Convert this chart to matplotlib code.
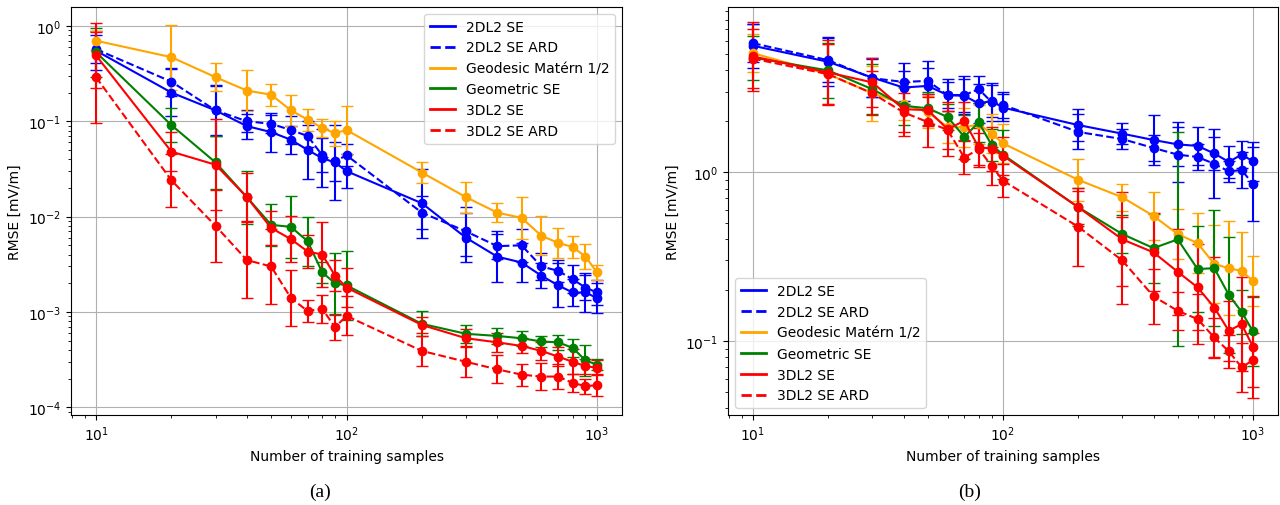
import matplotlib
matplotlib.use("Agg")
import matplotlib.pyplot as plt
from matplotlib.lines import Line2D

# number of training samples (shared by both panels)
n_samples = [10, 20, 30, 40, 50, 60, 70, 80, 90, 100, 200, 300, 400, 500, 600, 700, 800, 900, 1000]

labels = ["2DL2 SE", "2DL2 SE ARD", "Geodesic Matérn 1/2", "Geometric SE", "3DL2 SE", "3DL2 SE ARD"]
colors = ["blue", "blue", "orange", "green", "red", "red"]
styles = ["-", "--", "-", "-", "-", "--"]

# ---- panel (a): RMSE and multiplicative spread of the error bars ----
a_2dl2 = [0.55, 0.20, 0.13, 0.089, 0.077, 0.064, 0.050, 0.041, 0.037, 0.030,
          0.0138, 0.0060, 0.0038, 0.0033, 0.0024, 0.0019, 0.0016, 0.0016, 0.0014]
a_2dl2_ard = [0.57, 0.26, 0.13, 0.10, 0.094, 0.081, 0.070, 0.044, 0.038, 0.044,
              0.011, 0.007, 0.0049, 0.0050, 0.0030, 0.0027, 0.0022, 0.0018, 0.0016]
a_geod = [0.70, 0.47, 0.29, 0.21, 0.19, 0.13, 0.104, 0.085, 0.075, 0.081,
          0.029, 0.016, 0.011, 0.0097, 0.0063, 0.0053, 0.0048, 0.0038, 0.0026]
a_geom = [0.53, 0.091, 0.037, 0.016, 0.0082, 0.0078, 0.0055, 0.0026, 0.0020, 0.0019,
          0.00075, 0.00059, 0.00056, 0.00053, 0.00049, 0.00048, 0.00042, 0.00031, 0.00028]
a_3dl2 = [0.49, 0.048, 0.035, 0.016, 0.0076, 0.0058, 0.0043, 0.0040, 0.0024, 0.0018,
          0.00073, 0.00053, 0.00048, 0.00044, 0.00039, 0.00034, 0.00030, 0.00027, 0.00026]
a_3dl2_ard = [0.29, 0.024, 0.0080, 0.0035, 0.0030, 0.0014, 0.00102, 0.00108, 0.00069, 0.00091,
              0.00039, 0.00030, 0.00025, 0.00022, 0.00021, 0.00021, 0.00018, 0.000167, 0.00017]

a_2dl2_f = [1.6, 1.75, 1.85, 1.35, 1.6, 1.4, 2.0, 2.0, 2.5, 1.5, 2.3, 1.8, 1.85, 1.6, 1.35, 1.7, 1.4, 1.6, 1.45]
a_2dl2_ard_f = [1.4, 1.4, 1.8, 1.3, 1.25, 1.4, 1.3, 1.5, 1.6, 1.3, 1.5, 1.8, 1.35, 1.5, 1.4, 1.3, 1.4, 1.35, 1.35]
a_geod_f = [1.25, 2.2, 1.4, 1.65, 1.3, 1.45, 1.3, 1.25, 1.35, 1.8, 1.3, 1.45, 1.25, 1.65, 1.6, 1.45, 1.3, 1.35, 1.2]
a_geom_f = [1.8, 1.5, 1.9, 1.9, 1.65, 2.1, 1.8, 1.3, 2.1, 2.3, 1.35, 1.25, 1.2, 1.2, 1.15, 1.2, 1.25, 1.45, 1.15]
a_3dl2_f = [2.2, 1.6, 3.0, 1.8, 1.5, 1.75, 1.5, 2.2, 1.45, 1.6, 1.2, 1.25, 1.25, 1.2, 1.25, 1.25, 1.35, 1.2, 1.2]
a_3dl2_ard_f = [3.0, 1.9, 2.4, 2.5, 2.5, 1.95, 1.3, 1.4, 1.35, 1.6, 1.45, 1.45, 1.4, 1.3, 1.4, 1.35, 1.25, 1.2, 1.3]

# ---- panel (b) ----
b_2dl2 = [5.6, 4.5, 3.63, 3.17, 3.24, 2.86, 2.83, 2.55, 2.64, 2.41,
          1.90, 1.69, 1.55, 1.46, 1.43, 1.29, 1.15, 1.27, 1.16]
b_2dl2_ard = [5.8, 4.6, 3.6, 3.42, 3.47, 2.86, 2.86, 3.10, 2.6, 2.50,
              1.73, 1.57, 1.39, 1.27, 1.23, 1.12, 1.01, 1.03, 0.85]
b_geod = [5.06, 3.8, 2.93, 2.53, 2.27, 1.85, 1.84, 1.92, 1.69, 1.48,
          0.90, 0.71, 0.55, 0.43, 0.38, 0.286, 0.27, 0.26, 0.227]
b_geom = [4.77, 4.0, 3.10, 2.47, 2.39, 2.12, 1.62, 1.97, 1.45, 1.27,
          0.62, 0.43, 0.355, 0.40, 0.267, 0.27, 0.188, 0.149, 0.114]
b_3dl2 = [4.84, 3.89, 3.40, 2.36, 2.33, 1.80, 2.01, 1.40, 1.38, 1.25,
          0.62, 0.40, 0.335, 0.257, 0.208, 0.158, 0.115, 0.126, 0.0925]
b_3dl2_ard = [4.7, 3.8, 2.93, 2.26, 1.98, 1.78, 1.22, 1.37, 1.09, 0.89,
              0.475, 0.30, 0.184, 0.151, 0.135, 0.105, 0.087, 0.070, 0.077]

b_2dl2_f = [1.35, 1.4, 1.3, 1.25, 1.4, 1.25, 1.25, 1.3, 1.25, 1.2, 1.25, 1.15, 1.4, 1.35, 1.3, 1.25, 1.25, 1.2, 1.3]
b_2dl2_ard_f = [1.3, 1.35, 1.3, 1.3, 1.2, 1.2, 1.3, 1.2, 1.3, 1.2, 1.27, 1.15, 1.2, 1.45, 1.2, 1.6, 1.15, 1.27, 1.65]
b_geod_f = [1.3, 1.5, 1.45, 1.25, 1.25, 1.25, 1.3, 1.3, 1.3, 1.3, 1.33, 1.2, 1.38, 1.4, 1.5, 1.7, 1.9, 1.7, 1.4]
b_geom_f = [1.35, 1.45, 1.4, 1.3, 1.25, 1.2, 1.35, 1.3, 1.25, 1.4, 1.3, 1.3, 1.6, 4.3, 1.8, 2.2, 2.2, 1.35, 1.6]
b_3dl2_f = [1.6, 1.55, 1.4, 1.45, 1.25, 1.45, 1.3, 1.3, 1.35, 1.3, 1.25, 1.9, 1.7, 1.8, 1.8, 2.0, 1.5, 1.9, 2.0]
b_3dl2_ard_f = [1.5, 1.5, 1.35, 1.3, 1.4, 1.3, 1.25, 1.25, 1.3, 1.25, 1.7, 1.8, 1.45, 1.3, 1.4, 1.3, 1.25, 1.4, 1.45]


def draw_panel(ax, series, spreads, ylim, legend_loc):
    for vals, f, color, ls in zip(series, spreads, colors, styles):
        lower = [v - v / s for v, s in zip(vals, f)]
        upper = [v * s - v for v, s in zip(vals, f)]
        ax.errorbar(n_samples, vals, yerr=[lower, upper], color=color, linestyle=ls,
                    marker="o", markersize=6, capsize=4.5, linewidth=1.5, elinewidth=1.5)
    ax.set_xscale("log")
    ax.set_yscale("log")
    ax.set_xlim(10 ** 0.9, 10 ** 3.1)
    ax.set_ylim(*ylim)
    ax.grid(True, which="major", color="#b0b0b0", linewidth=0.8)
    ax.set_xlabel("Number of training samples", fontsize=10)
    ax.set_ylabel("RMSE [mV/m]", fontsize=10)
    ax.tick_params(labelsize=10)
    handles = [Line2D([0], [0], color=c, linestyle=s, linewidth=2) for c, s in zip(colors, styles)]
    ax.legend(handles, labels, loc=legend_loc, fontsize=10, handlelength=1.8)


fig = plt.figure(figsize=(12.8, 5.06), dpi=100)
ax_a = fig.add_axes([71 / 1280, 90 / 506, 551 / 1280, 408 / 506])
ax_b = fig.add_axes([728 / 1280, 90 / 506, 550 / 1280, 408 / 506])

draw_panel(ax_a,
           [a_2dl2, a_2dl2_ard, a_geod, a_geom, a_3dl2, a_3dl2_ard],
           [a_2dl2_f, a_2dl2_ard_f, a_geod_f, a_geom_f, a_3dl2_f, a_3dl2_ard_f],
           (8.3e-5, 1.58), "upper right")
draw_panel(ax_b,
           [b_2dl2, b_2dl2_ard, b_geod, b_geom, b_3dl2, b_3dl2_ard],
           [b_2dl2_f, b_2dl2_ard_f, b_geod_f, b_geom_f, b_3dl2_f, b_3dl2_ard_f],
           (0.0365, 9.5), "lower left")

fig.text(320 / 1280, 1 - 492 / 506, "(a)", ha="center", va="center",
         family="Liberation Serif", fontsize=14)
fig.text(970 / 1280, 1 - 492 / 506, "(b)", ha="center", va="center",
         family="Liberation Serif", fontsize=14)

fig.savefig("out.png", dpi=100)
